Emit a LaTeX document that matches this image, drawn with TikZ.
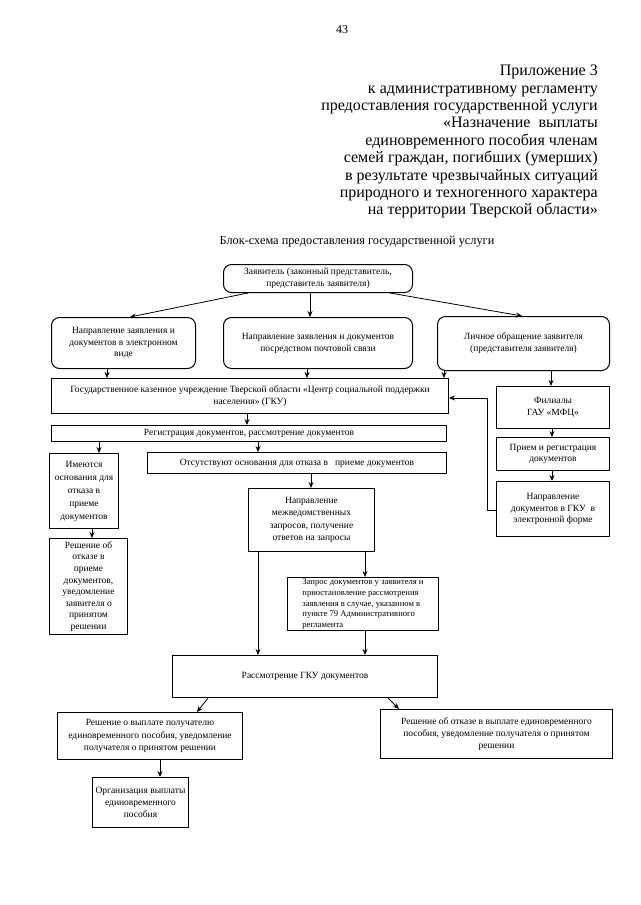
\documentclass[tikz,border=0pt]{standalone}
\usepackage{fontspec}
\setmainfont{Liberation Serif}
\usetikzlibrary{arrows.meta}
\tikzset{
  base/.style={draw, line width=1pt, align=center, inner sep=1.5pt, anchor=north west},
  sbox/.style={base},
  rbox/.style={base, rounded corners=8pt},
  arr/.style={-{Stealth[length=6pt,width=5pt]}, line width=0.8pt},
  fs/.style={font=\fontsize{9.5}{11.8}\selectfont}
}
\begin{document}
\begin{tikzpicture}[x=1pt,y=-1pt]
\useasboundingbox (0,0) rectangle (640,905);
% header
\node[font=\fontsize{12}{14}\selectfont] (pg) at (342,30) {43};
\node[anchor=north east, align=right, inner sep=0pt, font=\fontsize{16}{17.4}\selectfont] (ttl) at (598,65)
 {Приложение 3\\к административному регламенту\\предоставления государственной услуги\\«Назначение\ \ выплаты\\единовременного пособия членам\\семей граждан, погибших (умерших)\\в результате чрезвычайных ситуаций\\природного и техногенного характера\\на территории Тверской области»};
\node[font=\fontsize{12.3}{14}\selectfont] (bs) at (357,242) {Блок-схема предоставления государственной услуги};

% boxes
\node[rbox, fs, minimum width=189pt, minimum height=28pt] (zay) at (223,264) {Заявитель (законный представитель,\\представитель заявителя)};
\node[rbox, fs, minimum width=144pt, minimum height=51pt] (el) at (51,317) {Направление заявления и\\документов в электронном\\виде};
\node[rbox, fs, minimum width=189pt, minimum height=51pt] (post) at (223,317) {Направление заявления и документов\\посредством почтовой связи};
\node[rbox, fs, minimum width=172pt, minimum height=54pt] (lich) at (437,316) {Личное обращение заявителя\\(представителя заявителя)};
\node[sbox, fs, minimum width=397pt, minimum height=35pt] (gku) at (51,378) {Государственное казенное учреждение Тверской области «Центр социальной поддержки\\населения» (ГКУ)};
\node[sbox, fs, minimum width=113pt, minimum height=42pt] (fil) at (496,386) {Филиалы\\ГАУ «МФЦ»};
\node[sbox, fs, minimum width=113pt, minimum height=33pt] (prm) at (496,437) {Прием и регистрация\\документов};
\node[sbox, fs, minimum width=113pt, minimum height=55pt] (ngku) at (496,481) {Направление\\документов в ГКУ\ \ в\\электронной форме};
\node[sbox, fs, minimum width=395pt, minimum height=16pt] (reg) at (51,425) {Регистрация документов, рассмотрение документов};
\node[sbox, font=\fontsize{9.5}{13}\selectfont, minimum width=69pt, minimum height=75pt] (imt) at (49,453) {Имеются\\основания для\\отказа в\\приеме\\документов};
\node[sbox, font=\fontsize{9.5}{11.6}\selectfont, minimum width=78pt, minimum height=96pt] (rotk) at (49,538) {Решение об\\отказе в\\приеме\\документов,\\уведомление\\заявителя о\\принятом\\решении};
\node[sbox, fs, minimum width=299pt, minimum height=21pt] (ots) at (147,452) {Отсутствуют основания для отказа в\ \ \ приеме документов};
\node[sbox, font=\fontsize{9.5}{12.5}\selectfont, minimum width=126pt, minimum height=63pt] (mezh) at (248,488) {Направление\\межведомственных\\запросов, получение\\ответов на запросы};
\node[sbox, align=left, font=\fontsize{8.6}{10.7}\selectfont, minimum width=151pt, minimum height=50pt] (zapr) at (287,577) {Запрос документов у заявителя и\\приостановление рассмотрения\\заявления в случае, указанном в\\пункте 79 Административного\\регламента};
\node[sbox, fs, minimum width=265pt, minimum height=42pt] (rassm) at (172,655) {Рассмотрение ГКУ документов};
\node[sbox, font=\fontsize{9.5}{12.3}\selectfont, minimum width=185pt, minimum height=47pt] (vypl) at (57,712) {Решение о выплате получателю\\единовременного пособия, уведомление\\получателя о принятом решении};
\node[sbox, font=\fontsize{9.5}{12.3}\selectfont, minimum width=232pt, minimum height=49pt] (otkv) at (380,709) {Решение об отказе в выплате единовременного\\пособия, уведомление получателя о принятом\\решении};
\node[sbox, font=\fontsize{9.5}{12.3}\selectfont, minimum width=96pt, minimum height=50pt] (org) at (92,777) {Организация выплаты\\единовременного\\пособия};

% connectors
\draw[arr] (zay.south -| 248,0) -- (el.north -| 130,0);
\draw[arr] (zay.south -| 310,0) -- (post.north -| 310,0);
\draw[arr] (zay.south -| 390,0) -- (lich.north -| 522,0);
\draw[arr] (el.south -| 107,0) -- (gku.north -| 107,0);
\draw[arr] (post.south -| 307,0) -- (gku.north -| 307,0);
\draw[arr] (lich.south -| 444,0) -- (gku.north -| 444,0);
\draw[arr] (lich.south -| 551,0) -- (fil.north -| 551,0);
\draw[arr] (gku.south -| 247,0) -- (reg.north -| 247,0);
\draw[arr] (fil.south -| 552,0) -- (prm.north -| 552,0);
\draw[arr] (prm.south -| 552,0) -- (ngku.north -| 552,0);
\draw[arr] (ngku.west |- 0,510) -- (487,510) -- (487,398) -- (gku.east |- 0,398);
\draw[arr] (reg.south -| 99,0) -- (imt.north -| 99,0);
\draw[arr] (reg.south -| 258,0) -- (ots.north -| 258,0);
\draw[arr] (imt.south -| 92,0) -- (rotk.north -| 92,0);
\draw[arr] (ots.south -| 311,0) -- (mezh.north -| 311,0);
\draw[arr] (mezh.south -| 258,0) -- (rassm.north -| 258,0);
\draw[arr] (mezh.south -| 365,0) -- (zapr.north -| 365,0);
\draw[arr] (zapr.south -| 365,0) -- (rassm.north -| 365,0);
\draw[arr] (rassm.south -| 208,0) -- (vypl.north -| 197,0);
\draw[arr] (rassm.south -| 388,0) -- (otkv.north -| 399,0);
\draw[arr] (vypl.south -| 160,0) -- (org.north -| 160,0);
\end{tikzpicture}
\end{document}
